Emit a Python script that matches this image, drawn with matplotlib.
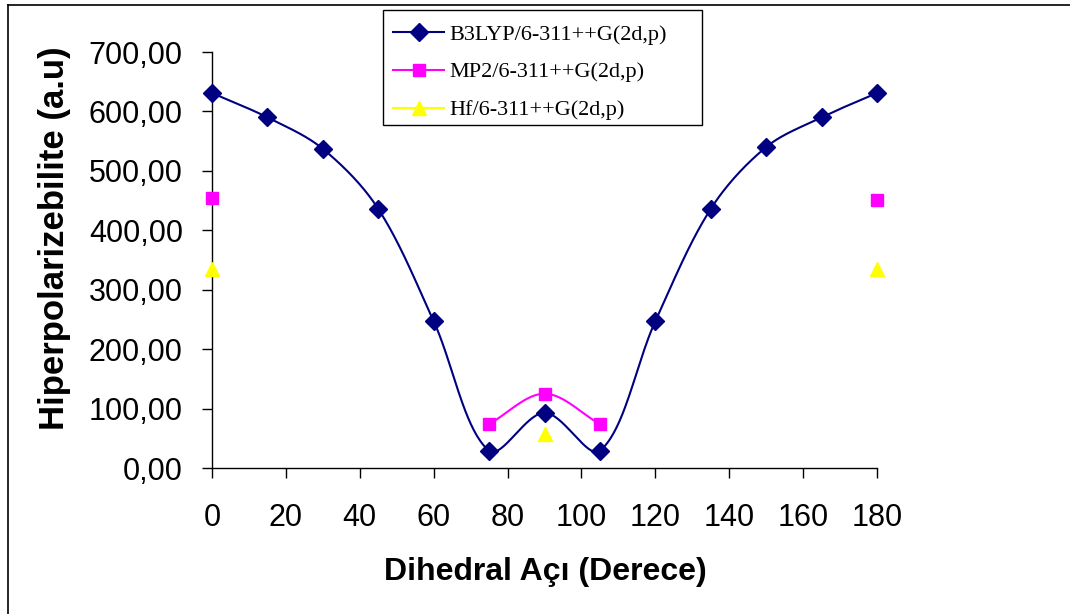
import numpy as np
import matplotlib
matplotlib.use("Agg")
import matplotlib.pyplot as plt
from matplotlib.lines import Line2D
from matplotlib.patches import Rectangle

angles = [0, 15, 30, 45, 60, 75, 90, 105, 120, 135, 150, 165, 180]
b3lyp = [631, 590, 537, 436, 247, 29, 93, 29, 247, 436, 540, 590, 631]
mp2 = [454, None, None, None, None, 74, 125, 74, None, None, None, None, 451]
hf = [335, None, None, None, None, None, 57, None, None, None, None, None, 335]

labels = ["B3LYP/6-311++G(2d,p)", "MP2/6-311++G(2d,p)", "Hf/6-311++G(2d,p)"]
colors = ["#000080", "#FF00FF", "#FFFF00"]
markers = ["D", "s", "^"]

xticks = [0, 20, 40, 60, 80, 100, 120, 140, 160, 180]
yticks = [0, 100, 200, 300, 400, 500, 600, 700]
ytick_labels = ["0,00", "100,00", "200,00", "300,00", "400,00", "500,00", "600,00", "700,00"]

W, H = 1070, 614
fig = plt.figure(figsize=(W / 100, H / 100), dpi=100)
ax = fig.add_axes([212 / W, 1 - 468 / H, 665 / W, 416 / H])
ax.set_xlim(0, 180)
ax.set_ylim(0, 700)

# axis pixel scale for display-space smoothing (Excel-style Bezier)
sx = 665 / 180.0
sy = 416 / 700.0


def smooth_runs(xs, ys, n=40):
    runs, cur = [], []
    for x, y in zip(xs, ys):
        if y is None:
            if cur:
                runs.append(cur)
            cur = []
        else:
            cur.append((x, y))
    if cur:
        runs.append(cur)
    out = []
    for run in runs:
        if len(run) < 2:
            continue
        P = np.array([[x * sx, y * sy] for x, y in run])
        N = len(P)
        seg_x, seg_y = [], []
        for i in range(N - 1):
            p1, p2 = P[i], P[i + 1]
            d12 = np.hypot(*(p2 - p1))
            if i > 0:
                p0 = P[i - 1]
                d01 = np.hypot(*(p1 - p0))
                c1 = p1 + (p2 - p0) * d12 / (d01 + d12) / 3.0
            else:
                c1 = p1 + (p2 - p1) / 3.0
            if i + 2 < N:
                p3 = P[i + 2]
                d23 = np.hypot(*(p3 - p2))
                c2 = p2 - (p3 - p1) * d12 / (d12 + d23) / 3.0
            else:
                c2 = p2 - (p2 - p1) / 3.0
            t = np.linspace(0, 1, n)[:, None]
            B = ((1 - t) ** 3) * p1 + 3 * ((1 - t) ** 2) * t * c1 + 3 * (1 - t) * t ** 2 * c2 + t ** 3 * p2
            seg_x.extend(B[:, 0] / sx)
            seg_y.extend(B[:, 1] / sy)
        out.append((seg_x, seg_y))
    return out


msizes = [9, 8.5, 10]
for ys, c, m, ms in zip([b3lyp, mp2, hf], colors, markers, msizes):
    for sxs, sys_ in smooth_runs(angles, ys):
        ax.plot(sxs, sys_, color=c, lw=1.5, zorder=2)
    px = [x for x, y in zip(angles, ys) if y is not None]
    py = [y for y in ys if y is not None]
    ax.plot(px, py, ls="none", marker=m, color=c, ms=ms, mec=c, zorder=3, clip_on=False)

for s in ["top", "right"]:
    ax.spines[s].set_visible(False)
for s in ["left", "bottom"]:
    ax.spines[s].set_linewidth(1.0)
    ax.spines[s].set_color("black")

tick_font = dict(family="Liberation Sans", size=22)
ax.set_xticks(xticks)
ax.set_xticklabels([str(v) for v in xticks], **tick_font)
ax.set_yticks(yticks)
ax.set_yticklabels(ytick_labels, **tick_font)
ax.tick_params(axis="x", direction="out", length=7, width=1, pad=18)
ax.tick_params(axis="y", direction="out", length=7, width=1, pad=14)

fig.text(545 / W, 1 - 572 / H, "Dihedral Açı (Derece)", ha="center", va="center",
         family="Liberation Sans", weight="bold", size=23)
fig.text(55 / W, 1 - 238 / H, "Hiperpolarizebilite (a.u)", ha="center", va="center",
         rotation=90, family="Liberation Sans", weight="bold", size=25)

handles = [Line2D([], [], color=c, marker=m, ms=ms, lw=1.5, mec=c)
           for c, m, ms in zip(colors, markers, msizes)]
leg = fig.legend(handles, labels, loc="upper left",
                 bbox_to_anchor=(383 / W, 1 - 14 / H), borderaxespad=0,
                 prop=dict(family="Liberation Serif", size=16),
                 frameon=False,
                 handlelength=2.3, labelspacing=0.78, borderpad=0.45, handletextpad=0.25)
fig.add_artist(Rectangle((383 / W, 1 - 125 / H), (702 - 383) / W, 115 / H,
                         transform=fig.transFigure, fill=False, edgecolor="black", lw=1.0))

# outer chart border (top and left visible)
fig.add_artist(Line2D([8 / W, 1], [1 - 5 / H, 1 - 5 / H], color="black", lw=1.2, transform=fig.transFigure))
fig.add_artist(Line2D([8 / W, 8 / W], [0, 1 - 5 / H], color="black", lw=1.2, transform=fig.transFigure))

fig.savefig("out.png", dpi=100)
